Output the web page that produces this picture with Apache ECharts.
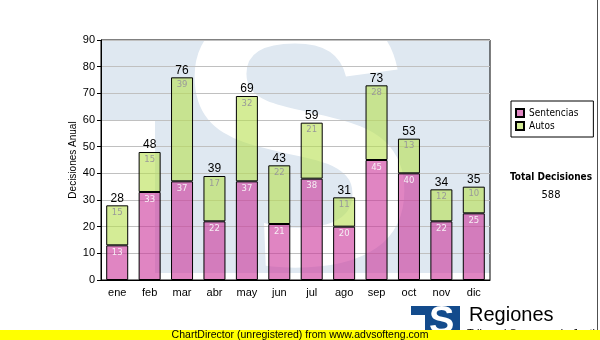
<!DOCTYPE html>
<html>
<head>
<meta charset="utf-8">
<script src="https://cdn.jsdelivr.net/npm/echarts@6/dist/echarts.min.js"></script>
<style>
  html, body { margin: 0; padding: 0; background: #ffffff; }
  #chart { width: 600px; height: 340px; }
</style>
</head>
<body>
<div id="chart"></div>
<script>
// Monthly decisions, stacked by type
const months = ['ene', 'feb', 'mar', 'abr', 'may', 'jun', 'jul', 'ago', 'sep', 'oct', 'nov', 'dic'];
const sentencias = [13, 33, 37, 22, 37, 21, 38, 20, 45, 40, 22, 25];
const autos = [15, 15, 39, 17, 32, 22, 21, 11, 28, 13, 12, 10];
const yMin = 0, yMax = 90, yStep = 10;

const totals = sentencias.map((v, i) => v + autos[i]);
const grandTotal = totals.reduce((a, b) => a + b, 0);

const ARIAL = '"Liberation Sans", Arial, sans-serif';
const TAHOMA = '"DejaVu Sans Condensed", "DejaVu Sans", sans-serif';
const VERDANA = '"DejaVu Sans", Verdana, sans-serif';
const WATERMARK = '#dfe8f1';

const chart = echarts.init(document.getElementById('chart'), null, { renderer: 'canvas' });

chart.setOption({
  animation: false,
  backgroundColor: '#ffffff',
  grid: {
    left: 101, right: 110, top: 40, bottom: 60,
    show: true, borderColor: '#000000', borderWidth: 1, backgroundColor: 'transparent'
  },
  legend: {
    data: ['Sentencias', 'Autos'],
    orient: 'vertical',
    left: 511, top: 101,
    padding: [6, 15, 5, 4],
    borderColor: '#000000', borderWidth: 1,
    itemWidth: 8, itemHeight: 8, itemGap: 1,
    icon: 'rect',
    textStyle: { fontFamily: TAHOMA, fontSize: 10, color: '#000000', lineHeight: 12 }
  },
  xAxis: {
    type: 'category',
    data: months,
    axisLine: { lineStyle: { color: '#000000', width: 1 } },
    axisTick: { alignWithLabel: true, length: 4, lineStyle: { color: '#000000' } },
    axisLabel: { fontFamily: ARIAL, fontSize: 11, color: '#000000', margin: 7 }
  },
  yAxis: {
    type: 'value',
    min: yMin, max: yMax, interval: yStep,
    name: 'Decisiones Anual',
    nameLocation: 'middle',
    nameRotate: 90,
    nameGap: 23,
    nameMoveOverlap: false,
    nameTextStyle: { fontFamily: ARIAL, fontSize: 10, color: '#000000' },
    axisLine: { show: true, lineStyle: { color: '#000000', width: 1 } },
    axisTick: { show: true, length: 4, lineStyle: { color: '#000000' } },
    axisLabel: { fontFamily: ARIAL, fontSize: 11, color: '#000000', margin: 6 },
    splitLine: { show: true, lineStyle: { color: '#c0c0c0', width: 1 } }
  },
  series: [
    {
      name: 'Sentencias',
      type: 'bar',
      stack: 'dec',
      data: sentencias,
      barWidth: 22,
      itemStyle: { color: 'rgba(204,51,153,0.6)', borderColor: '#000000', borderWidth: 1 },
      label: {
        show: true, position: 'insideTop', distance: 3,
        fontFamily: VERDANA, fontSize: 8.5, color: '#f6eef4'
      }
    },
    {
      name: 'Autos',
      type: 'bar',
      stack: 'dec',
      data: autos,
      barWidth: 22,
      itemStyle: { color: 'rgba(183,223,80,0.6)', borderColor: '#000000', borderWidth: 1 },
      label: {
        show: true, position: 'insideTop', distance: 3,
        fontFamily: VERDANA, fontSize: 8.5, color: '#999999'
      }
    },
    {
      name: 'Total',
      type: 'bar',
      stack: 'dec',
      data: totals.map(() => 0),
      barWidth: 22,
      itemStyle: { color: 'transparent', borderWidth: 0 },
      label: {
        show: true, position: 'top', distance: 1,
        fontFamily: ARIAL, fontSize: 12, color: '#000000',
        formatter: p => String(totals[p.dataIndex])
      }
    }
  ],
  graphic: [
    // pale logo watermark behind the plot
    {
      type: 'polygon', z: -10, silent: true,
      shape: { points: [[101, 40], [490, 40], [490, 273], [155, 273], [155, 120], [101, 120]] },
      style: { fill: WATERMARK }
    },
    {
      type: 'text', z: -9, silent: true,
      style: {
        text: 'S', x: 172, y: 162,
        font: 'bold 370px "Liberation Sans", Arial, sans-serif',
        fill: '#ffffff', align: 'left', verticalAlign: 'middle'
      }
    },
    {
      // lower-left of the logo stays solid
      type: 'polygon', z: -8, silent: true,
      shape: { points: [[155, 182], [236, 182], [256, 196], [264, 222], [266, 273], [155, 273]] },
      style: { fill: WATERMARK }
    },
    // summary at the right
    {
      type: 'text', silent: true,
      style: {
        text: 'Total Decisiones', x: 551, y: 177,
        font: 'bold 10px "DejaVu Sans Condensed", "DejaVu Sans", sans-serif',
        fill: '#000000', align: 'center', verticalAlign: 'middle'
      }
    },
    {
      type: 'text', silent: true,
      style: {
        text: String(grandTotal), x: 551, y: 195,
        font: '11px "DejaVu Sans Condensed", "DejaVu Sans", sans-serif',
        fill: '#000000', align: 'center', verticalAlign: 'middle'
      }
    },
    // frame line at the right edge
    {
      type: 'line', silent: true,
      shape: { x1: 597.5, y1: 0, x2: 597.5, y2: 330 },
      style: { stroke: '#505050', lineWidth: 1 }
    },
    // footer logo
    {
      type: 'polygon', silent: true, z: 5,
      shape: { points: [[411, 306], [460, 306], [460, 340], [425, 340], [425, 315], [411, 315]] },
      style: { fill: '#134b8c' }
    },
    {
      type: 'text', silent: true, z: 6,
      style: {
        text: 'S', x: 429, y: 323,
        font: 'bold 38px "Liberation Sans", Arial, sans-serif',
        fill: '#ffffff', align: 'left', verticalAlign: 'middle'
      }
    },
    {
      type: 'text', silent: true, z: 6,
      style: {
        text: 'Regiones', x: 469, y: 315,
        font: '20px "Liberation Sans", Arial, sans-serif',
        fill: '#000000', align: 'left', verticalAlign: 'middle'
      }
    },
    {
      type: 'text', silent: true, z: 6,
      style: {
        text: 'Tribunal Supremo de Justicia', x: 467, y: 334,
        font: '11px "Liberation Sans", Arial, sans-serif',
        fill: '#000000', align: 'left', verticalAlign: 'middle'
      }
    },
    // unregistered-library banner
    {
      type: 'rect', silent: true, z: 20,
      shape: { x: 0, y: 330, width: 600, height: 10 },
      style: { fill: '#ffff00' }
    },
    {
      type: 'text', silent: true, z: 21,
      style: {
        text: 'ChartDirector (unregistered) from www.advsofteng.com', x: 300, y: 335,
        font: '10.5px "Liberation Sans", Arial, sans-serif',
        fill: '#000000', align: 'center', verticalAlign: 'middle'
      }
    }
  ]
});
</script>
</body>
</html>
